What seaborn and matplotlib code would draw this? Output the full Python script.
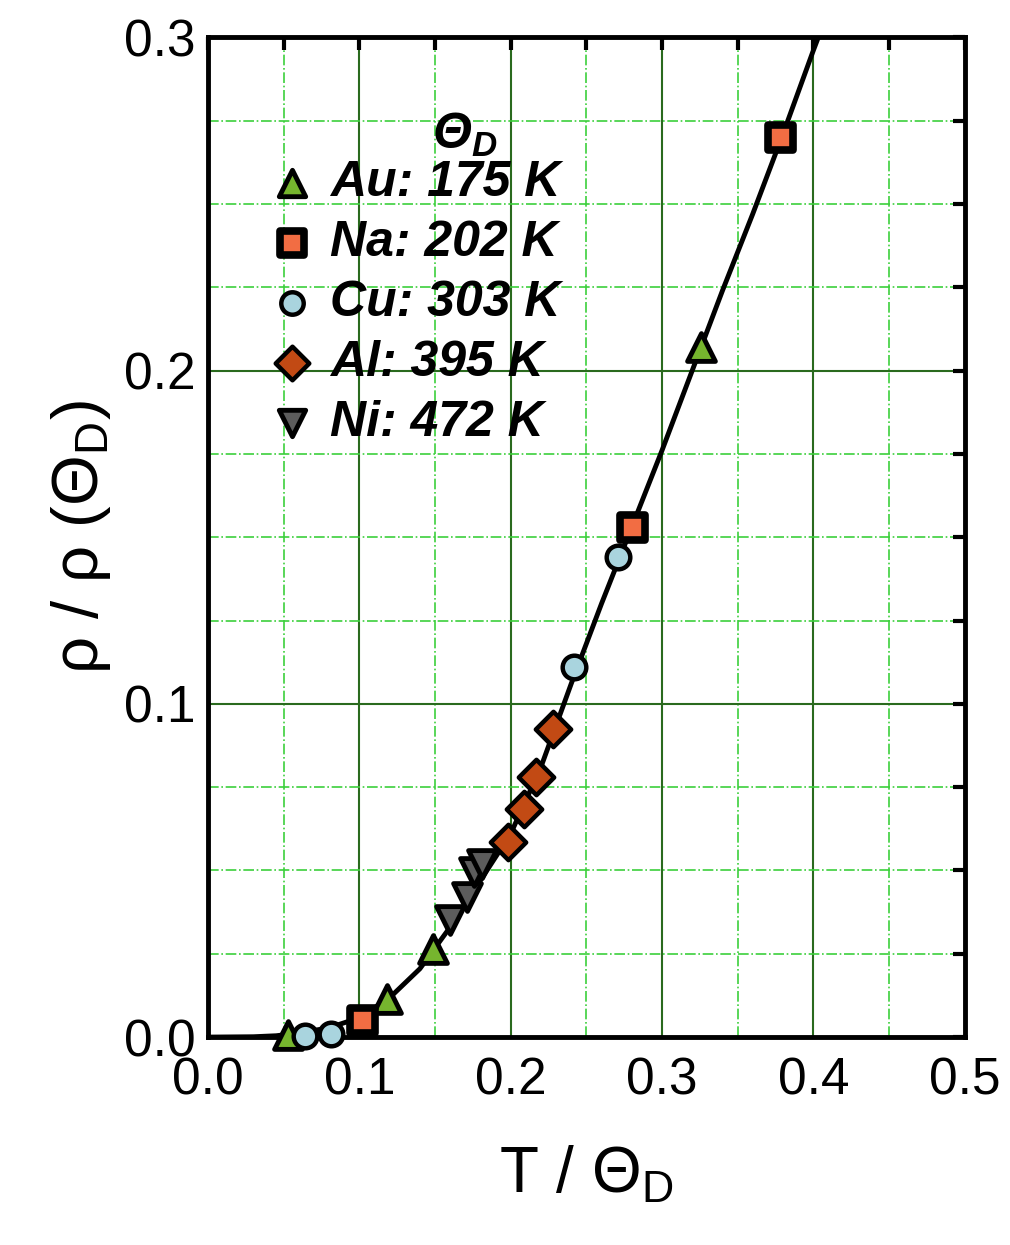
import matplotlib
matplotlib.use("Agg")
import matplotlib.pyplot as plt
import seaborn as sns
import pandas as pd
from matplotlib.ticker import MultipleLocator

# Data (T / Theta_D, rho / rho(Theta_D))
curve_t = [0.0, 0.03, 0.045, 0.06, 0.08, 0.10, 0.12, 0.14, 0.16, 0.18, 0.20,
           0.22, 0.24, 0.26, 0.28, 0.30, 0.32, 0.34, 0.36, 0.38, 0.40, 0.42]
curve_rho = [0.0, 0.0001, 0.0004, 0.0012, 0.0028, 0.0058, 0.0118, 0.0205, 0.0330,
             0.0470, 0.0610, 0.0810, 0.1060, 0.1300, 0.1530, 0.1760, 0.2000,
             0.2240, 0.2470, 0.2710, 0.2960, 0.3200]

au_t = [0.053, 0.118, 0.149, 0.326]
au_rho = [0.0005, 0.0115, 0.0265, 0.207]
na_t = [0.102, 0.280, 0.378]
na_rho = [0.005, 0.153, 0.270]
cu_t = [0.064, 0.081, 0.242, 0.271]
cu_rho = [0.0002, 0.0008, 0.111, 0.144]
al_t = [0.198, 0.209, 0.217, 0.228]
al_rho = [0.0585, 0.0685, 0.078, 0.0925]
ni_t = [0.160, 0.171, 0.176, 0.181]
ni_rho = [0.035, 0.042, 0.0495, 0.052]

metals = ["Au", "Na", "Cu", "Al", "Ni"]
debye = [175, 202, 303, 395, 472]
series_t = [au_t, na_t, cu_t, al_t, ni_t]
series_rho = [au_rho, na_rho, cu_rho, al_rho, ni_rho]

markers = ["^", "s", "o", "D", "v"]
fills = ["#76b52e", "#f26d43", "#a9d4de", "#c24a14", "#5c5c5c"]
sizes = [20, 18, 17, 18, 20]
edges = [3.5, 5.5, 3.2, 3.2, 3.5]

sns.set_style("white")
plt.rcParams["font.family"] = ["Liberation Sans", "DejaVu Sans"]
plt.rcParams["mathtext.fontset"] = "custom"
plt.rcParams["mathtext.rm"] = "Liberation Sans"
plt.rcParams["mathtext.it"] = "Liberation Sans:italic:bold"
for key in ["text.color", "axes.labelcolor", "xtick.color", "ytick.color"]:
    plt.rcParams[key] = "black"

fig = plt.figure(figsize=(10.10, 12.45), dpi=100)
ax = fig.add_axes([0.206, 0.167, 0.749, 0.803])

ax.grid(which="major", color="#2a6a1e", linestyle="-", linewidth=1.5, zorder=0)
ax.grid(which="minor", color="#3ccf3c", linestyle="-.", linewidth=1.2, zorder=0)

sns.lineplot(x=curve_t, y=curve_rho, sort=False, color="black", linewidth=3.5,
             ax=ax, zorder=3)

for name, k, t, r, mk, fc, ms, ew in zip(metals, debye, series_t, series_rho,
                                         markers, fills, sizes, edges):
    df = pd.DataFrame({"t": t, "rho": r})
    sns.scatterplot(data=df, x="t", y="rho", marker=mk, color=fc, edgecolor="black",
                    linewidth=ew, s=ms ** 2, label=f"{name}: {k} K", ax=ax,
                    clip_on=False, zorder=5)

ax.set_xlim(0, 0.5)
ax.set_ylim(0, 0.3)
ax.xaxis.set_major_locator(MultipleLocator(0.1))
ax.xaxis.set_minor_locator(MultipleLocator(0.05))
ax.yaxis.set_major_locator(MultipleLocator(0.1))
ax.yaxis.set_minor_locator(MultipleLocator(0.025))
ax.xaxis.set_major_formatter(matplotlib.ticker.FormatStrFormatter("%.1f"))
ax.yaxis.set_major_formatter(matplotlib.ticker.FormatStrFormatter("%.1f"))

ax.tick_params(which="both", direction="in", top=True, right=True,
               length=9, width=3, color="black")
ax.tick_params(axis="x", which="major", labelsize=37, pad=14)
ax.tick_params(axis="y", which="major", labelsize=37, pad=9)
for s in ax.spines.values():
    s.set_linewidth(3.5)
    s.set_color("black")

ax.set_xlabel(r"T / Θ$_\mathrm{D}$", fontsize=46, labelpad=28)
ax.set_ylabel(r"ρ / ρ (Θ$_\mathrm{D}$)", fontsize=47, labelpad=8)

leg = ax.legend(loc="upper left", bbox_to_anchor=(0.042, 0.897), frameon=False,
                prop={"size": 36, "weight": "bold", "style": "italic"},
                handletextpad=0.1, handlelength=1.3, labelspacing=0.28,
                borderaxespad=0, markerscale=0.95)
ax.text(0.34, 0.902, r"Θ$_D$", transform=ax.transAxes, fontsize=36,
        fontweight="bold", fontstyle="italic", ha="center", va="center")

fig.savefig("out.png", dpi=100)
